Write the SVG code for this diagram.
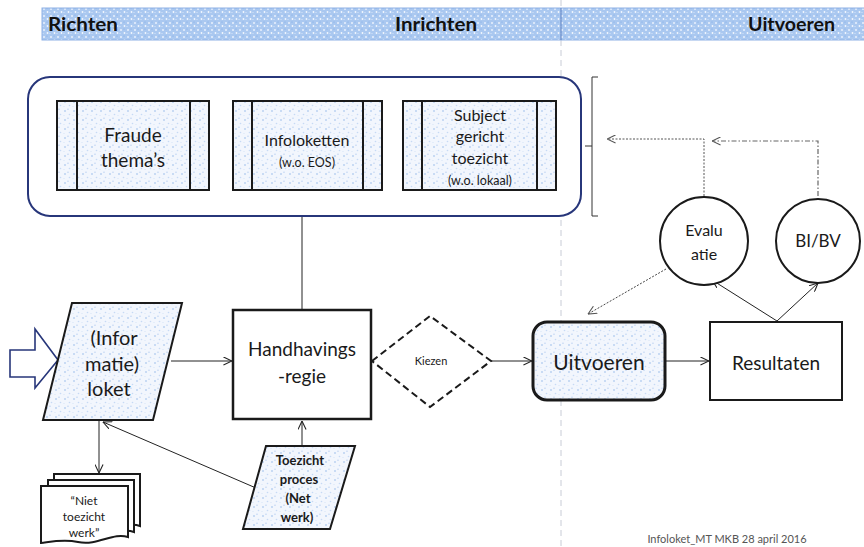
<svg xmlns="http://www.w3.org/2000/svg" width="864" height="547" viewBox="0 0 864 547">
<style>
  .t{font-family:Lato,"Liberation Sans",sans-serif;fill:#1a1a1a;text-anchor:middle}
  .hdr{font-family:Lato,"Liberation Sans",sans-serif;font-weight:bold;font-size:19px;fill:#111}
  .ln{fill:none;stroke:#222;stroke-width:1}
  .box{stroke:#1a1a1a;stroke-width:2}
  .col{fill:none;stroke:#1a1a1a;stroke-width:2}
</style>
<defs>
  <pattern id="speck" width="9" height="9" patternUnits="userSpaceOnUse">
    <rect width="9" height="9" fill="#f2f6fd"/>
    <circle cx="2" cy="3" r="0.9" fill="#b6cff1"/>
    <circle cx="6.5" cy="6.5" r="0.8" fill="#c6daf5"/>
    <circle cx="5" cy="1.2" r="0.6" fill="#a8c4ee"/>
    <circle cx="1" cy="7.5" r="0.5" fill="#cddff6"/>
  </pattern>
  <pattern id="hdrp" width="7" height="7" patternUnits="userSpaceOnUse">
    <rect width="7" height="7" fill="#aac8f0"/>
    <circle cx="2" cy="2" r="1" fill="#e9f1fc"/>
    <circle cx="5.5" cy="5" r="0.9" fill="#f4f8fe"/>
    <circle cx="5" cy="1" r="0.6" fill="#7faae6"/>
    <circle cx="1" cy="5.5" r="0.6" fill="#dce8fa"/>
  </pattern>
  <marker id="arr" viewBox="0 0 10 10" refX="9.5" refY="5" markerWidth="9" markerHeight="9" markerUnits="userSpaceOnUse" orient="auto">
    <path d="M0,0.5 L9.5,5 L0,9.5" fill="none" stroke="#222" stroke-width="1.2"/>
  </marker>
  <marker id="arrg" viewBox="0 0 10 10" refX="9.5" refY="5" markerWidth="9" markerHeight="9" markerUnits="userSpaceOnUse" orient="auto">
    <path d="M0,0.5 L9.5,5 L0,9.5" fill="none" stroke="#555" stroke-width="1.2"/>
  </marker>
</defs>

<rect width="864" height="547" fill="#ffffff"/>

<!-- faint scan line -->
<line x1="561" y1="0" x2="561" y2="547" stroke="#c8ccd6" stroke-width="1" stroke-dasharray="6 4"/>

<!-- header band -->
<g id="header">
  <rect x="42" y="8" width="830" height="32" fill="url(#hdrp)" stroke="#8fb2e6" stroke-width="1"/>
  <line x1="561" y1="8" x2="561" y2="40" stroke="#5a7fc0" stroke-width="1"/>
  <text class="hdr" x="48" y="31" textLength="70" lengthAdjust="spacingAndGlyphs">Richten</text>
  <text class="hdr" x="395" y="31" textLength="82" lengthAdjust="spacingAndGlyphs">Inrichten</text>
  <text class="hdr" x="748" y="31" textLength="87" lengthAdjust="spacingAndGlyphs">Uitvoeren</text>
</g>

<!-- connectors -->
<g id="connectors">
  <line class="ln" x1="302" y1="216" x2="302" y2="310"/>
  <line class="ln" x1="171" y1="361" x2="232" y2="361" marker-end="url(#arr)"/>
  <line class="ln" x1="491" y1="361" x2="532" y2="361" marker-end="url(#arr)"/>
  <line class="ln" x1="665" y1="361" x2="709" y2="361" marker-end="url(#arr)"/>
  <line class="ln" x1="302" y1="446" x2="302" y2="421" marker-end="url(#arr)"/>
  <line class="ln" x1="256" y1="488" x2="103" y2="422" marker-end="url(#arr)"/>
  <line class="ln" x1="99" y1="421" x2="99" y2="473" marker-end="url(#arr)"/>
  <line class="ln" x1="777" y1="321" x2="712" y2="280" marker-end="url(#arr)"/>
  <line class="ln" x1="777" y1="321" x2="818" y2="283" marker-end="url(#arr)"/>
  <line x1="666" y1="269" x2="588" y2="314" stroke="#444" stroke-width="1" stroke-dasharray="2 1.5" marker-end="url(#arrg)"/>
  <polyline points="704,196 704,139 607,139" fill="none" stroke="#555" stroke-width="1" stroke-dasharray="2 1.5" marker-end="url(#arrg)"/>
  <polyline points="818,196 818,141 712,141" fill="none" stroke="#666" stroke-width="1.2" stroke-dasharray="5 2 1.5 2" marker-end="url(#arrg)"/>
  <!-- bracket -->
  <polyline points="598,77 592,77 592,216 598,216" fill="none" stroke="#333" stroke-width="1"/>
  <line x1="585" y1="146" x2="592" y2="146" stroke="#333" stroke-width="1"/>
</g>

<!-- container -->
<g id="container">
  <rect x="28" y="77" width="553" height="139" rx="22" ry="22" fill="#ffffff" stroke="#27367a" stroke-width="2"/>
</g>

<g id="fraude">
  <rect class="box" x="57" y="101" width="152" height="89" fill="url(#speck)"/>
  <line class="col" x1="77" y1="101" x2="77" y2="190"/>
  <line class="col" x1="190" y1="101" x2="190" y2="190"/>
  <text class="t" x="133" y="142" font-size="19">Fraude</text>
  <text class="t" x="133" y="167" font-size="19">thema’s</text>
</g>

<g id="infoloketten">
  <rect class="box" x="233" y="101" width="149" height="89" fill="url(#speck)"/>
  <line class="col" x1="252" y1="101" x2="252" y2="190"/>
  <line class="col" x1="363" y1="101" x2="363" y2="190"/>
  <text class="t" x="307" y="146" font-size="16">Infoloketten</text>
  <text class="t" x="307" y="167" font-size="12.5">(w.o. EOS)</text>
</g>

<g id="subject">
  <rect class="box" x="403" y="101" width="153" height="89" fill="url(#speck)"/>
  <line class="col" x1="422" y1="101" x2="422" y2="190"/>
  <line class="col" x1="537" y1="101" x2="537" y2="190"/>
  <text class="t" x="480" y="121" font-size="16">Subject</text>
  <text class="t" x="480" y="142" font-size="16">gericht</text>
  <text class="t" x="480" y="164" font-size="16">toezicht</text>
  <text class="t" x="480" y="185" font-size="12.5">(w.o. lokaal)</text>
</g>

<g id="evaluatie">
  <circle cx="704" cy="241" r="44" fill="#fff" stroke="#1a1a1a" stroke-width="2"/>
  <text class="t" x="704" y="236" font-size="16">Evalu</text>
  <text class="t" x="704" y="260" font-size="16">atie</text>
</g>

<g id="bibv">
  <circle cx="818" cy="241" r="42" fill="#fff" stroke="#1a1a1a" stroke-width="2"/>
  <text class="t" x="818" y="247" font-size="17">BI/BV</text>
</g>

<g id="input-arrow">
  <path d="M10,350 H35 V329 L58,360 L35,388 V377 H10 Z" fill="#fff" stroke="#27367a" stroke-width="1.6"/>
</g>

<g id="loket">
  <path d="M72,303 H182 L153,420 H43 Z" fill="url(#speck)" stroke="#1a1a1a" stroke-width="2"/>
  <text class="t" x="114" y="345" font-size="20">(Infor</text>
  <text class="t" x="112" y="371" font-size="20">matie)</text>
  <text class="t" x="109" y="396" font-size="20">loket</text>
</g>

<g id="handhavings">
  <rect x="233" y="310" width="138" height="109" fill="#fff" stroke="#1a1a1a" stroke-width="2.5"/>
  <text class="t" x="302" y="356" font-size="19">Handhavings</text>
  <text class="t" x="302" y="383" font-size="19">-regie</text>
</g>

<g id="kiezen">
  <path d="M372,361 L430,316 L491,361 L430,407 Z" fill="#fff" stroke="#1a1a1a" stroke-width="2" stroke-dasharray="7 4"/>
  <text class="t" x="431" y="365" font-size="11">Kiezen</text>
</g>

<g id="uitvoeren">
  <rect x="533" y="322" width="132" height="78" rx="14" ry="14" fill="url(#speck)" stroke="#1a1a1a" stroke-width="3"/>
  <text class="t" x="599" y="370" font-size="21">Uitvoeren</text>
</g>

<g id="resultaten">
  <rect x="710" y="322" width="132" height="78" fill="#fff" stroke="#1a1a1a" stroke-width="2"/>
  <text class="t" x="776" y="370" font-size="19">Resultaten</text>
</g>

<g id="niet-toezicht">
  <path d="M54,474 H140 V526 C125,521 110,534 90,530 C75,527 62,530 54,531 Z" fill="#fff" stroke="#1a1a1a" stroke-width="2"/>
  <path d="M48,480 H134 V532 C119,527 104,540 84,536 C69,533 56,536 48,537 Z" fill="#fff" stroke="#1a1a1a" stroke-width="2"/>
  <path d="M41,486 H128 V537 C113,532 98,546 78,542 C63,539 50,542 41,543 Z" fill="#fff" stroke="#1a1a1a" stroke-width="2"/>
  <text class="t" x="84" y="505" font-size="12">“Niet</text>
  <text class="t" x="84" y="521" font-size="12">toezicht</text>
  <text class="t" x="84" y="537" font-size="12">werk”</text>
</g>

<g id="toezicht-proces">
  <path d="M266,446 H355 L330,529 H243 Z" fill="url(#speck)" stroke="#1a1a1a" stroke-width="2"/>
  <text class="t" x="300" y="465" font-size="13" font-weight="bold">Toezicht</text>
  <text class="t" x="299" y="484" font-size="13" font-weight="bold">proces</text>
  <text class="t" x="298" y="503" font-size="13" font-weight="bold">(Net</text>
  <text class="t" x="297" y="522" font-size="13" font-weight="bold">werk)</text>
</g>

<text x="727" y="543" font-family="Lato,'Liberation Sans',sans-serif" font-size="11" fill="#555" text-anchor="middle">Infoloket_MT MKB 28 april 2016</text>
</svg>
